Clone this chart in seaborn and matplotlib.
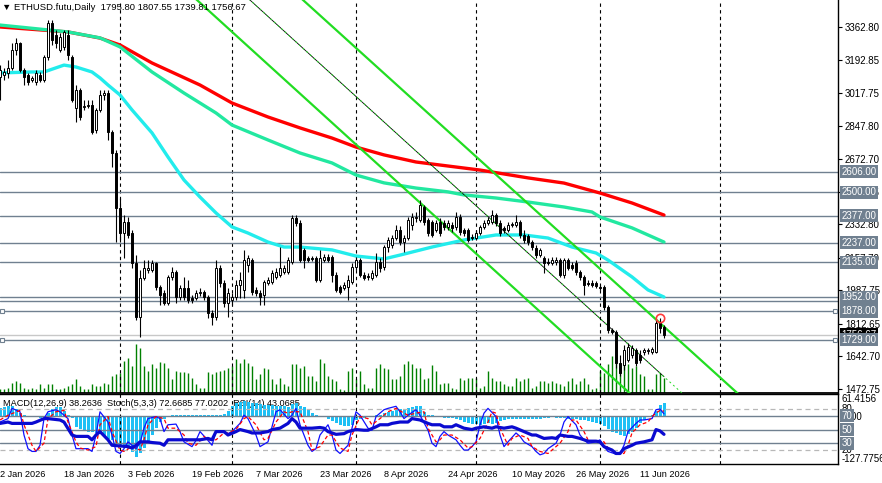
import numpy as np
import matplotlib
matplotlib.use("Agg")
import matplotlib.pyplot as plt
import matplotlib.transforms as mtransforms
import seaborn as sns

# -------------------
# Dados (barras diárias a partir de 2 Jan 2026, índice = dia)
# -------------------
opens = [
    3102, 3112, 3123, 3149, 3243, 3279, 3138, 3112, 3086, 3076,
    3112, 3086, 3206, 3384, 3321, 3243, 3258, 3321, 3206, 2940,
    3034, 2945, 2950, 2956, 2825, 2930, 3008, 3018, 2815, 2705,
    2418, 2287, 2345, 2287, 2131, 1849, 2052, 2094, 2094, 2131,
    2005, 1974, 1922, 2058, 2084, 1953, 2000, 2000, 1948, 1948,
    1974, 1979, 1953, 1870, 1849, 2105, 2026, 1922, 1937, 1953,
    2016, 1990, 2120, 2146, 1990, 1974, 1964, 2026, 2031, 2058,
    2068, 2084, 2084, 2136, 2366, 2340, 2199, 2157, 2157, 2157,
    2042, 2146, 2162, 2162, 2068, 2005, 2000, 2005, 2031, 2110,
    2146, 2068, 2063, 2052, 2068, 2136, 2110, 2214, 2225, 2261,
    2303, 2240, 2261, 2329, 2366, 2355, 2423, 2355, 2345, 2303,
    2345, 2340, 2319, 2329, 2319, 2371, 2303, 2303, 2267, 2261,
    2287, 2319, 2340, 2345, 2381, 2340, 2314, 2303, 2329, 2329,
    2345, 2277, 2272, 2240, 2209, 2172, 2157, 2136, 2131, 2136,
    2146, 2068, 2146, 2120, 2131, 2084, 2058, 2026, 2026, 2026,
    2005, 2005, 1901, 1781, 1770, 1609, 1598, 1624, 1650, 1676,
    1650, 1666, 1671, 1666, 1666, 1817, 1795.80]
highs = [
    3164, 3149, 3191, 3279, 3305, 3285, 3149, 3123, 3107, 3138,
    3128, 3217, 3399, 3399, 3347, 3332, 3347, 3347, 3217, 3060,
    3044, 2982, 2982, 2982, 2940, 3034, 3034, 3034, 2825, 2721,
    2470, 2381, 2371, 2303, 2172, 2094, 2146, 2146, 2146, 2136,
    2016, 1990, 2068, 2110, 2094, 2016, 2058, 2042, 1964, 1990,
    2000, 1990, 1964, 1885, 2146, 2120, 2042, 2000, 1974, 2042,
    2084, 2199, 2172, 2157, 2005, 1990, 2042, 2058, 2094, 2105,
    2214, 2120, 2162, 2381, 2381, 2355, 2209, 2167, 2167, 2167,
    2199, 2178, 2178, 2172, 2084, 2016, 2031, 2068, 2131, 2162,
    2157, 2084, 2078, 2094, 2183, 2157, 2225, 2267, 2277, 2329,
    2324, 2277, 2371, 2392, 2397, 2460, 2434, 2366, 2355, 2355,
    2366, 2355, 2355, 2345, 2397, 2387, 2314, 2314, 2282, 2303,
    2329, 2355, 2371, 2407, 2392, 2355, 2324, 2345, 2345, 2381,
    2355, 2303, 2282, 2251, 2225, 2209, 2167, 2157, 2162, 2162,
    2157, 2157, 2157, 2136, 2146, 2094, 2068, 2042, 2042, 2036,
    2016, 2016, 1911, 1791, 1781, 1650, 1703, 1713, 1703, 1687,
    1676, 1687, 1687, 1692, 1833, 1843, 1807.55]
lows = [
    2982, 3086, 3097, 3138, 3217, 3128, 3060, 3060, 3076, 3060,
    3076, 3076, 3191, 3269, 3253, 3232, 3243, 3191, 2971, 2867,
    2877, 2930, 2940, 2804, 2809, 2919, 2982, 2773, 2632, 2240,
    2240, 2157, 2261, 2105, 1833, 1744, 2042, 2078, 2084, 1990,
    1911, 1911, 1911, 2042, 1922, 1937, 1937, 1922, 1922, 1937,
    1959, 1937, 1843, 1807, 1833, 2005, 1901, 1849, 1911, 1937,
    1948, 1948, 2084, 1964, 1959, 1911, 1911, 2016, 2021, 2047,
    2058, 2073, 2073, 2126, 2324, 2136, 2105, 2136, 2141, 2031,
    2031, 2136, 2136, 2031, 1979, 1969, 1990, 1937, 2021, 2094,
    2058, 2042, 2042, 2042, 2058, 2084, 2094, 2188, 2209, 2251,
    2225, 2188, 2251, 2303, 2345, 2345, 2329, 2272, 2267, 2293,
    2272, 2303, 2303, 2293, 2303, 2277, 2272, 2240, 2251, 2251,
    2277, 2308, 2329, 2335, 2324, 2272, 2287, 2293, 2319, 2319,
    2261, 2235, 2225, 2199, 2157, 2162, 2078, 2120, 2120, 2120,
    2058, 2052, 2094, 2094, 2068, 2042, 1964, 2010, 2005, 2000,
    1990, 1885, 1765, 1760, 1582, 1541, 1572, 1614, 1635, 1593,
    1609, 1650, 1656, 1656, 1661, 1765, 1739.81]
closes = [
    3138, 3128, 3149, 3243, 3279, 3138, 3102, 3076, 3097, 3123,
    3086, 3206, 3384, 3295, 3279, 3311, 3337, 3217, 2982, 3034,
    2893, 2950, 2956, 2815, 2930, 3008, 3018, 2815, 2705, 2418,
    2287, 2345, 2277, 2131, 1849, 2052, 2105, 2105, 2131, 2005,
    1964, 1922, 2058, 2084, 1953, 2000, 1953, 1937, 1937, 1974,
    1979, 1953, 1870, 1849, 2105, 2026, 1922, 1974, 1953, 2016,
    2042, 2146, 2157, 1979, 1974, 1953, 2031, 2042, 2078, 2084,
    2105, 2105, 2146, 2366, 2340, 2146, 2146, 2146, 2152, 2042,
    2157, 2162, 2146, 2068, 1990, 1979, 2016, 2042, 2110, 2146,
    2068, 2052, 2058, 2078, 2136, 2105, 2214, 2251, 2261, 2303,
    2240, 2261, 2355, 2371, 2371, 2434, 2345, 2287, 2277, 2340,
    2287, 2319, 2340, 2314, 2371, 2293, 2287, 2251, 2261, 2287,
    2319, 2340, 2355, 2381, 2340, 2287, 2303, 2329, 2335, 2345,
    2277, 2251, 2240, 2214, 2172, 2199, 2131, 2131, 2146, 2146,
    2068, 2146, 2105, 2105, 2084, 2058, 2016, 2021, 2016, 2010,
    2000, 1901, 1781, 1770, 1609, 1556, 1676, 1692, 1687, 1609,
    1624, 1676, 1676, 1682, 1817, 1791, 1756.67]
volumes = [
    4,
    4, 5, 10, 12, 10, 5, 4, 5, 4, 9,
    5, 9, 9, 4, 4, 5, 7, 9, 14, 7,
    4, 4, 9, 7, 7, 10, 9, 17, 19, 20,
    32, 35, 27, 49, 45, 27, 22, 29, 25, 31,
    30, 25, 14, 22, 21, 21, 20, 15, 9, 5,
    5, 21, 19, 21, 22, 23, 25, 27, 34, 30,
    34, 30, 27, 14, 19, 25, 24, 14, 9, 15,
    9, 7, 29, 29, 25, 27, 17, 17, 12, 34,
    30, 17, 14, 12, 4, 3, 22, 25, 14, 22,
    9, 5, 5, 25, 29, 25, 24, 14, 14, 17,
    29, 32, 29, 25, 25, 14, 15, 28, 22, 9,
    10, 10,
    5, 4, 15, 13, 15, 15, 15, 5, 7, 22, 15, 12, 12, 9, 7, 7, 15, 12,
    14, 15, 5, 7, 12, 12, 10, 12, 10, 9, 7, 12, 15, 9, 12, 15, 9, 4,
    5, 22, 20, 29, 37, 32, 27, 34, 29, 25, 27, 19, 17, 4, 4, 19, 20, 15]

macd_hist = [
    23, 27, 30, 28, 20, 9, 5, 3, 2, 1,
    -3, -2, 10, 22, 27, 25, 15, 5, -4, -27,
    -32, -36, -40, -42, -45, -48, -55, -60, -63, -72,
    -80, -85, -88, -95, -108, -98, -85, -70, -50, -30,
    -15, -5, 3, 4, 5, 6, 6, 5, 4, 4,
    5, 6, 5, 4, 5, 6, 8, 15, 30, 38,
    40, 42, 40, 38, 36, 34, 32, 32, 31, 30,
    29, 28, 27, 35, 38, 30, 25, 20, 10, 4,
    2, 0, -5, -12, -18, -22, -25, -26, -22, -10,
    -5, -3, -2, 0, 4, 6, 9, 12, 15, 18,
    20, 22, 24, 26, 28, 30, 12, 6, 5, 3,
    -2, -4, -3, -4, -5, -8, -15, -18, -20, -20,
    -22, -20, -18, -20, -16, -12, -8, -7, -6, -6,
    -5, -5, -6, -7, -6, -5, -4, -3, -2, -3,
    -4, -4, -5, -6, -7, -8, -10, -12, -14, -18,
    -20, -25, -32, -40, -45, -50, -52, -48, -40, -30,
    -18, -8, -2, 5, 15, 32, 37]

stoch_main_pts = [
    (0, 61), (2, 66), (3, 81), (5, 76), (6, 42), (7, 22), (8, 18), (9, 18), (10, 27), (11, 66),
    (12, 76), (14, 79), (15, 76), (17, 66), (18, 42), (19, 22), (20, 22), (22, 22), (23, 18), (24, 42),
    (25, 76), (27, 61), (28, 42), (29, 18), (30, 15), (31, 22), (32, 32), (34, 22), (35, 30), (36, 52),
    (37, 66), (39, 69), (40, 66), (41, 47), (42, 57), (44, 58), (45, 47), (46, 32), (48, 25), (49, 34),
    (50, 47), (52, 34), (53, 27), (54, 47), (55, 47), (57, 44), (58, 47), (60, 59), (61, 71), (62, 66),
    (64, 42), (65, 25), (67, 32), (68, 54), (69, 76), (70, 79), (72, 66), (73, 71), (74, 81), (75, 57),
    (77, 27), (78, 18), (79, 22), (80, 42), (82, 57), (83, 42), (84, 20), (85, 15), (87, 27), (88, 52),
    (89, 76), (90, 71), (92, 52), (93, 49), (94, 69), (96, 79), (97, 81), (99, 84), (100, 76), (101, 66),
    (102, 71), (104, 79), (105, 71), (107, 49), (108, 30), (109, 25), (110, 40), (111, 47), (112, 42),
    (114, 35), (115, 27), (116, 20), (117, 20), (118, 25), (119, 32), (120, 57), (121, 74), (122, 81),
    (124, 69), (125, 42), (126, 25), (127, 32), (129, 45), (130, 40), (131, 32), (133, 25), (134, 18),
    (135, 13), (136, 15), (137, 22), (139, 30), (140, 42), (141, 61), (142, 69), (144, 57), (145, 42),
    (146, 35), (147, 30), (149, 32), (150, 35), (151, 25), (152, 18), (154, 14), (155, 15), (156, 27),
    (157, 47), (159, 59), (160, 64), (161, 64), (163, 66), (164, 79), (165, 80), (166, 73)]
stoch_signal_pts = [
    (0, 64), (2, 71), (5, 78), (6, 57), (8, 27), (9, 18), (11, 30), (12, 66), (14, 76), (16, 78),
    (17, 61), (19, 32), (20, 23), (22, 20), (24, 25), (25, 57), (27, 69), (28, 47), (30, 20), (31, 18),
    (33, 25), (35, 20), (36, 35), (37, 57), (39, 69), (41, 66), (42, 52), (44, 52), (46, 42), (47, 30),
    (49, 27), (51, 40), (52, 35), (54, 35), (56, 45), (57, 45), (59, 50), (61, 66), (62, 69), (64, 57),
    (66, 35), (67, 37), (69, 61), (71, 76), (72, 74), (73, 76), (75, 76), (77, 47), (78, 20), (80, 25),
    (82, 42), (83, 42), (85, 23), (87, 18), (88, 42), (90, 69), (92, 66), (93, 57), (95, 66), (97, 76),
    (99, 81), (101, 74), (102, 71), (104, 74), (106, 76), (107, 52), (109, 32), (110, 35), (111, 42),
    (113, 42), (115, 35), (117, 23), (118, 25), (120, 37), (122, 61), (123, 76), (124, 74), (125, 52),
    (127, 27), (128, 37), (130, 42), (132, 37), (133, 25), (135, 18), (137, 15), (138, 20), (140, 30),
    (142, 47), (143, 64), (144, 64), (146, 47), (147, 35), (149, 32), (151, 32), (152, 23), (154, 15),
    (156, 15), (157, 27), (158, 45), (160, 57), (162, 61), (163, 69), (164, 74), (165, 78), (166, 77)]
rsi_pts = [
    (0, 59), (2, 61), (3, 59), (5, 59), (8, 59), (9, 61), (11, 66), (12, 66), (15, 64), (16, 61),
    (18, 42), (19, 40), (22, 40), (23, 35), (24, 42), (25, 47), (27, 35), (28, 27), (30, 26), (32, 25),
    (33, 23), (34, 27), (35, 32), (37, 32), (38, 31), (40, 30), (41, 27), (42, 35), (45, 35), (48, 35),
    (50, 35), (52, 37), (53, 35), (54, 47), (56, 47), (57, 42), (59, 47), (60, 50), (62, 47), (63, 45),
    (65, 45), (67, 47), (68, 50), (70, 52), (72, 59), (73, 66), (74, 61), (75, 52), (77, 52), (78, 52),
    (80, 53), (81, 52), (82, 47), (84, 43), (86, 44), (87, 47), (89, 50), (91, 49), (92, 49), (94, 54),
    (95, 57), (97, 57), (98, 59), (100, 61), (102, 61), (103, 66), (105, 64), (107, 59), (108, 57),
    (110, 57), (111, 54), (113, 54), (114, 57), (116, 52), (118, 50), (119, 52), (121, 54), (123, 52),
    (124, 54), (126, 52), (128, 54), (129, 52), (131, 47), (133, 42), (134, 42), (136, 37), (138, 38),
    (139, 37), (140, 42), (142, 40), (143, 40), (145, 37), (147, 33), (149, 33), (150, 32), (151, 25),
    (153, 20), (154, 15), (155, 15), (156, 22), (158, 27), (159, 30), (161, 32), (163, 35), (164, 50),
    (165, 48), (166, 43)]

# médias móveis (índice, preço)
ma_red_pts = [(0, 3363), (17, 3337), (25, 3305), (30, 3269), (38, 3175), (50, 3060), (58, 2966),
              (67, 2893), (75, 2836), (83, 2783), (89, 2736), (96, 2695), (104, 2658), (112, 2637),
              (120, 2616), (132, 2575), (141, 2548), (150, 2496), (158, 2444), (166, 2381)]
ma_green_pts = [(0, 3373), (17, 3337), (25, 3306), (30, 3259), (38, 3128), (46, 3018), (54, 2914),
                (58, 2851), (67, 2773), (75, 2705), (83, 2653), (89, 2590), (96, 2549), (104, 2522),
                (112, 2502), (116, 2486), (124, 2470), (132, 2449), (141, 2423), (148, 2397),
                (150, 2371), (158, 2314), (166, 2240)]
ma_cyan_pts = [(0, 3123), (8, 3128), (11, 3128), (16, 3164), (19, 3154), (23, 3128), (25, 3097),
               (27, 3060), (30, 3008), (33, 2930), (38, 2810), (42, 2684), (46, 2564), (50, 2475),
               (54, 2392), (58, 2319), (62, 2287), (67, 2240), (71, 2214), (75, 2214), (83, 2199),
               (89, 2167), (96, 2152), (100, 2172), (108, 2214), (116, 2251), (124, 2277),
               (131, 2277), (137, 2261), (143, 2214), (149, 2183), (152, 2146), (158, 2058),
               (162, 1990), (166, 1953)]

# canal de tendência (pontos de ancoragem)
chan_low_idx, chan_low_px = [48.5, 159], [3518, 1421]
chan_up_idx, chan_up_px = [75, 186], [3518, 1420]
chan_mid_idx, chan_mid_px = [62, 171], [3513, 1442]
chan_mid_black_end = (166, 1537)

levels = [2606, 2500, 2377, 2237, 2135, 1930, 1952, 1878, 1729]
levels_squares = [1878, 1729]
bid_price = 1756.67
marker_bar, marker_price = 165, 1843
price_ticks = [3362.80, 3192.85, 3017.75, 2847.80, 2672.70, 2502.75,
               2332.80, 2157.70, 1987.75, 1812.65, 1642.70, 1472.75]
date_pos = [0, 16, 32, 48, 64, 80, 96, 112, 128, 144, 160]
date_labels = ["2 Jan 2026", "18 Jan 2026", "3 Feb 2026", "19 Feb 2026", "7 Mar 2026",
               "23 Mar 2026", "8 Apr 2026", "24 Apr 2026", "10 May 2026", "26 May 2026",
               "11 Jun 2026"]
month_starts = [30, 58, 89, 119, 150, 180]
macd_max, macd_min = 61.4156, -127.7756
header = "\u25bc ETHUSD.futu,Daily  1795.80 1807.55 1739.81 1756.67"
ind_header = "MACD(12,26,9) 38.2636  Stoch(5,3,3) 72.6685 77.0202  RSI(14) 43.0685"

# -------------------
# Estilo
# -------------------
sns.set_theme(style="white")
plt.rcParams['font.family'] = ['Liberation Sans', 'DejaVu Sans']
plt.rcParams['axes.linewidth'] = 1.0

W, H = 882, 483
fig = plt.figure(figsize=(W / 100, H / 100), dpi=100)
fig.patch.set_facecolor('white')
main_rect = [0, 1 - 393 / H, 838 / W, 393 / H]
ind_rect = [0, 1 - 464 / H, 838 / W, 70 / H]

vol_ax = fig.add_axes(main_rect)
ax = fig.add_axes(main_rect)
ax.patch.set_alpha(0)
macd_ax = fig.add_axes(ind_rect)
ind = fig.add_axes(ind_rect)
ind.patch.set_alpha(0)

xlim = (0, 209.5)
o = np.array(opens, float)
h = np.array(highs, float)
l = np.array(lows, float)
c = np.array(closes, float)
x = np.arange(len(o))

# -------------------
# Volume
# -------------------
vol_ax.vlines(x, 0, volumes, color='#008000', lw=1.0)
vol_ax.set_xlim(*xlim)
vol_ax.set_ylim(0, max(volumes) * 8.0)
vol_ax.axis('off')

# -------------------
# Painel principal
# -------------------
ax.set_xlim(*xlim)
ax.set_ylim(1451.9, 3503.8)

for m in month_starts:
    ax.axvline(m, color='black', lw=0.8, ls=(0, (3, 3)), zorder=1)

for lv in levels:
    ax.axhline(lv, color='#708090', lw=1.0, zorder=2)
ax.axhline(bid_price, color='#c8c8c8', lw=1.0, zorder=2)
for lv in levels_squares:
    ax.plot([0.4, 208.8], [lv, lv], ls='none', marker='s', ms=3.5, mfc='white',
            mec='#708090', mew=0.8, clip_on=False, zorder=6)

# canal
ax.plot(chan_low_idx, chan_low_px, color='#22dd22', lw=1.6, zorder=5)
ax.plot(chan_up_idx, chan_up_px, color='#22dd22', lw=1.6, zorder=5)
ax.plot([chan_mid_idx[0], chan_mid_black_end[0]], [chan_mid_px[0], chan_mid_black_end[1]],
        color='black', lw=0.6, zorder=5)
ax.plot(chan_mid_idx, chan_mid_px, color='#22dd22', lw=0.7, ls=(0, (2, 3)), zorder=5)

# médias
for pts, col in [(ma_red_pts, '#ff0000'), (ma_green_pts, '#22e8a0'), (ma_cyan_pts, '#22ecec')]:
    xs, ys = zip(*pts)
    sns.lineplot(x=list(xs), y=list(ys), ax=ax, color=col, lw=2.4, legend=False,
                 sort=False, estimator=None, zorder=4)

# velas
bull = c >= o
ax.vlines(x, l, h, color='black', lw=0.8, zorder=6)
ax.bar(x, np.abs(c - o), bottom=np.minimum(o, c), width=0.72,
       color=np.where(bull, 'white', 'black'), edgecolor='black', linewidth=0.7, zorder=7)
ax.plot(marker_bar, marker_price, 'o', ms=6, mfc='none', mec='#ff3b3b', mew=1.2, zorder=8)

# eixo de preços
ax.yaxis.tick_right()
ax.set_yticks(price_ticks)
ax.set_yticklabels([f"{p:.2f}" for p in price_ticks])
ax.tick_params(axis='y', length=3, width=0.8, pad=2, labelsize=7, colors='black', right=True)
ax.set_xticks([])
ax.grid(False)
for s in ['top', 'left']:
    ax.spines[s].set_visible(False)
ax.spines['right'].set_color('black')
ax.spines['bottom'].set_color('black')
ax.spines['bottom'].set_linewidth(1.3)

trans = mtransforms.blended_transform_factory(ax.transAxes, ax.transData)
lab_x = 1 + 3.5 / 838
ax.text(lab_x, bid_price, f"{bid_price:.2f}", transform=trans, color='white', fontsize=7,
        va='center', ha='left', clip_on=False, zorder=9,
        bbox=dict(boxstyle='square,pad=0.15', fc='black', ec='none'))
for lv in levels:
    ax.text(lab_x, lv, f"{lv:.2f}", transform=trans, color='white', fontsize=7,
            va='center', ha='left', clip_on=False, zorder=10,
            bbox=dict(boxstyle='square,pad=0.15', fc='#708090', ec='none'))

ax.text(2 / 838, 1 - 8 / 393, header, transform=ax.transAxes, fontsize=6.8,
        va='center', ha='left', color='black', zorder=11)

# -------------------
# Painel de indicadores
# -------------------
macd_ax.set_xlim(*xlim)
macd_ax.set_ylim(macd_min, macd_max)
macd_ax.text(3 / 838, 0.87, ind_header, transform=macd_ax.transAxes, fontsize=6.6,
             va='center', ha='left', color='black', zorder=1)
macd_ax.bar(x, macd_hist, width=0.75, color='#1ec0f5', edgecolor='none', linewidth=0,
            zorder=2)
macd_ax.axis('off')

ind.set_xlim(*xlim)
ind.set_ylim(-0.4, 102.0)
for m in month_starts:
    ind.axvline(m, color='black', lw=0.8, ls=(0, (3, 3)), zorder=1)
for lv in [80, 20]:
    ind.axhline(lv, color='#b8b8b8', lw=0.9, ls=(0, (4, 3)), zorder=2)
for lv in [70, 50, 30]:
    ind.axhline(lv, color='#708090', lw=1.0, zorder=2)

xs, ys = zip(*stoch_main_pts)
sns.lineplot(x=list(xs), y=list(ys), ax=ind, color='#1010ff', lw=0.9, legend=False,
             sort=False, estimator=None, zorder=4)
xs, ys = zip(*stoch_signal_pts)
sns.lineplot(x=list(xs), y=list(ys), ax=ind, color='#ff0000', lw=0.9, legend=False,
             sort=False, estimator=None, linestyle=(0, (3, 2)), zorder=4)
xs, ys = zip(*rsi_pts)
sns.lineplot(x=list(xs), y=list(ys), ax=ind, color='#0a0ad0', lw=2.3, legend=False,
             sort=False, estimator=None, zorder=5)

ind.set_yticks([])
ind.set_xticks(date_pos)
ind.set_xticklabels(date_labels)
for lbl in ind.get_xticklabels():
    lbl.set_ha('left')
ind.tick_params(axis='x', length=0, pad=4, labelsize=6.6, colors='black')
ind.grid(False)
ind.spines['left'].set_visible(False)
for s in ['top', 'bottom', 'right']:
    ind.spines[s].set_color('black')

itrans = mtransforms.blended_transform_factory(ind.transAxes, ind.transData)
mtrans = mtransforms.blended_transform_factory(macd_ax.transAxes, macd_ax.transData)
macd_ax.text(lab_x, macd_max, f"{macd_max:.4f}", transform=mtrans, fontsize=7, va='top',
             ha='left', color='black', clip_on=False)
macd_ax.text(lab_x, macd_min, f"{macd_min:.4f}", transform=mtrans, fontsize=7, va='bottom',
             ha='left', color='black', clip_on=False)
macd_ax.text(lab_x + 0.002, 0, "0.00", transform=mtrans, fontsize=7, va='center',
             ha='left', color='black', clip_on=False)
for lv in [80, 20]:
    ind.text(lab_x, lv, f"{lv}", transform=itrans, fontsize=7, va='center', ha='left',
             color='black', clip_on=False, zorder=9)
for lv in [70, 50, 30]:
    ind.text(lab_x, lv, f"{lv}", transform=itrans, fontsize=7, va='center', ha='left',
             color='white', clip_on=False, zorder=10,
             bbox=dict(boxstyle='square,pad=0.15', fc='#708090', ec='none'))

fig.savefig("out.png", dpi=100, facecolor='white')
